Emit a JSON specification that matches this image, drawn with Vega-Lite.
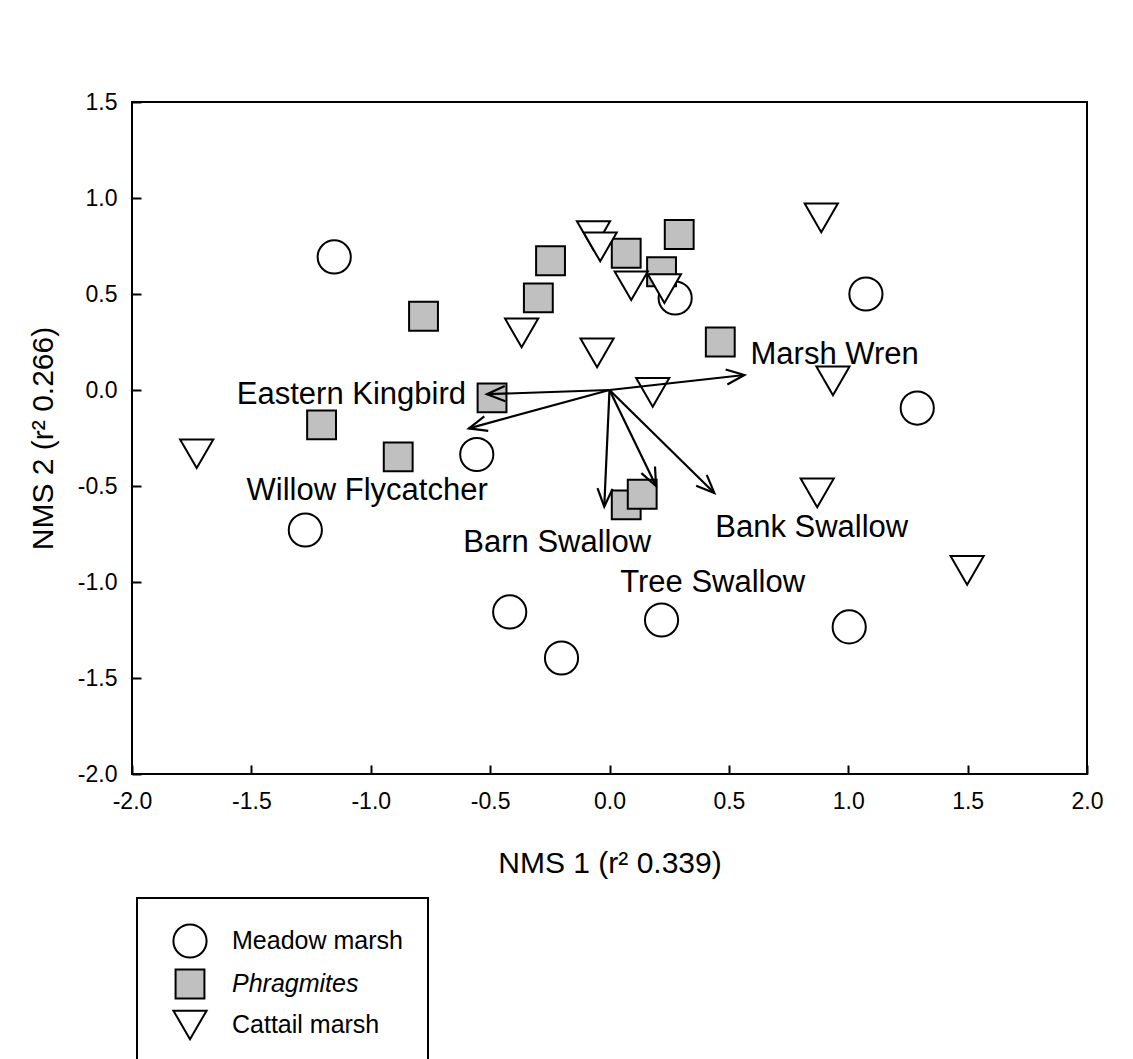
{
  "$schema": "https://vega.github.io/schema/vega-lite/v6.json",
  "width": 955,
  "height": 672,
  "autosize": "none",
  "padding": {"left": 132, "top": 102, "right": 46, "bottom": 285},
  "background": "white",
  "config": {
    "font": "Liberation Sans",
    "view": {"stroke": "black", "strokeWidth": 2},
    "axis": {
      "grid": false,
      "zindex": 1,
      "domain": false,
      "offset": -9,
      "tickColor": "black",
      "tickWidth": 2,
      "tickSize": 9,
      "labelFontSize": 23,
      "labelColor": "black",
      "labelFlush": false,
      "labelOverlap": false,
      "titleFontSize": 30,
      "titleFontWeight": "normal",
      "titleColor": "black"
    },
    "legend": {
      "symbolStrokeWidth": 2,
      "strokeWidth": 2
    }
  },
  "datasets": {
    "sites": [
      {"type": "Meadow marsh", "x": -1.153, "y": 0.693},
      {"type": "Meadow marsh", "x": 1.074, "y": 0.5},
      {"type": "Meadow marsh", "x": 1.289, "y": -0.094},
      {"type": "Meadow marsh", "x": 0.275, "y": 0.479},
      {"type": "Meadow marsh", "x": -0.556, "y": -0.336},
      {"type": "Meadow marsh", "x": -1.274, "y": -0.729},
      {"type": "Meadow marsh", "x": -0.418, "y": -1.156},
      {"type": "Meadow marsh", "x": -0.201, "y": -1.396},
      {"type": "Meadow marsh", "x": 0.218, "y": -1.198},
      {"type": "Meadow marsh", "x": 1.004, "y": -1.234},
      {"type": "Phragmites", "x": -0.779, "y": 0.384},
      {"type": "Phragmites", "x": -0.247, "y": 0.673},
      {"type": "Phragmites", "x": -0.298, "y": 0.48},
      {"type": "Phragmites", "x": 0.07, "y": 0.712},
      {"type": "Phragmites", "x": 0.218, "y": 0.616},
      {"type": "Phragmites", "x": 0.292, "y": 0.81},
      {"type": "Phragmites", "x": 0.464, "y": 0.25},
      {"type": "Phragmites", "x": -0.492, "y": -0.041},
      {"type": "Phragmites", "x": -1.206, "y": -0.182},
      {"type": "Phragmites", "x": -0.885, "y": -0.348},
      {"type": "Phragmites", "x": 0.07, "y": -0.598},
      {"type": "Phragmites", "x": 0.137, "y": -0.543},
      {"type": "Cattail marsh", "x": -0.067, "y": 0.804},
      {"type": "Cattail marsh", "x": -0.039, "y": 0.745},
      {"type": "Cattail marsh", "x": 0.091, "y": 0.543},
      {"type": "Cattail marsh", "x": 0.23, "y": 0.528},
      {"type": "Cattail marsh", "x": -0.368, "y": 0.297},
      {"type": "Cattail marsh", "x": -0.052, "y": 0.193},
      {"type": "Cattail marsh", "x": 0.181, "y": -0.012},
      {"type": "Cattail marsh", "x": 0.887, "y": 0.896},
      {"type": "Cattail marsh", "x": 0.936, "y": 0.048},
      {"type": "Cattail marsh", "x": -1.729, "y": -0.332},
      {"type": "Cattail marsh", "x": 0.87, "y": -0.536},
      {"type": "Cattail marsh", "x": 1.498, "y": -0.94}
    ],
    "vectors": [
      {"species": "Marsh Wren", "x": 0.565, "y": 0.078},
      {"species": "Eastern Kingbird", "x": -0.513, "y": -0.022},
      {"species": "Willow Flycatcher", "x": -0.589, "y": -0.2},
      {"species": "Barn Swallow", "x": -0.022, "y": -0.607},
      {"species": "Tree Swallow", "x": 0.195, "y": -0.5},
      {"species": "Bank Swallow", "x": 0.439, "y": -0.536}
    ],
    "labels": [
      {"species": "Marsh Wren", "x": 0.943, "y": 0.135},
      {"species": "Eastern Kingbird", "x": -1.081, "y": -0.074},
      {"species": "Willow Flycatcher", "x": -1.015, "y": -0.573},
      {"species": "Barn Swallow", "x": -0.219, "y": -0.842},
      {"species": "Tree Swallow", "x": 0.432, "y": -1.054},
      {"species": "Bank Swallow", "x": 0.847, "y": -0.767}
    ]
  },
  "encoding": {
    "x": {
      "field": "x",
      "type": "quantitative",
      "scale": {"domain": [-2, 2], "nice": false, "zero": false},
      "axis": {
        "title": "NMS 1 (r² 0.339)",
        "values": [-2, -1.5, -1, -0.5, 0, 0.5, 1, 1.5, 2],
        "labelExpr": "replace(format(datum.value, '.1f'), '−', '-')",
        "labelPadding": 16,
        "titlePadding": 35
      }
    },
    "y": {
      "field": "y",
      "type": "quantitative",
      "scale": {"domain": [-2, 1.5], "nice": false, "zero": false},
      "axis": {
        "title": "NMS 2 (r² 0.266)",
        "values": [-2, -1.5, -1, -0.5, 0, 0.5, 1, 1.5],
        "labelExpr": "replace(format(datum.value, '.1f'), '−', '-')",
        "labelPadding": 15,
        "titlePadding": 19
      }
    }
  },
  "layer": [
    {
      "data": {"name": "sites"},
      "mark": {"type": "point", "filled": true, "strokeWidth": 2, "opacity": 1, "size": 1100},
      "encoding": {
        "shape": {
          "field": "type",
          "type": "nominal",
          "scale": {
            "domain": ["Meadow marsh", "Phragmites", "Cattail marsh"],
            "range": ["circle", "M-0.87,-0.87L0.87,-0.87L0.87,0.87L-0.87,0.87Z", "triangle-down"]
          },
          "legend": {
            "title": null,
            "orient": "none",
            "legendX": 5,
            "legendY": 796,
            "padding": 25,
            "strokeColor": "black",
            "symbolOffset": 10,
            "symbolSize": 1100,
            "symbolStrokeWidth": 2,
            "symbolOpacity": 1,
            "labelFontSize": 25,
            "labelColor": "black",
            "labelOffset": 24,
            "labelLimit": 400,
            "rowPadding": 3,
            "labelFontStyle": {"expr": "datum.label === 'Phragmites' ? 'italic' : 'normal'"}
          }
        },
        "fill": {
          "field": "type",
          "type": "nominal",
          "scale": {
            "domain": ["Meadow marsh", "Phragmites", "Cattail marsh"],
            "range": ["white", "#c0c0c0", "white"]
          }
        },
        "stroke": {
          "field": "type",
          "type": "nominal",
          "scale": {
            "domain": ["Meadow marsh", "Phragmites", "Cattail marsh"],
            "range": ["black", "black", "black"]
          }
        }
      }
    },
    {
      "data": {"name": "vectors"},
      "mark": {"type": "rule", "stroke": "black", "strokeWidth": 2.2},
      "encoding": {
        "x2": {"datum": 0},
        "y2": {"datum": 0}
      }
    },
    {
      "data": {"name": "vectors"},
      "transform": [
        {"calculate": "atan2(-datum.y * 192, datum.x * 239) * 180 / PI", "as": "ang"}
      ],
      "mark": {
        "type": "point",
        "shape": "M-1,-0.42L0,0L-1,0.42",
        "filled": false,
        "fill": null,
        "stroke": "black",
        "strokeWidth": 2.2,
        "opacity": 1,
        "size": 1300
      },
      "encoding": {
        "angle": {"field": "ang", "type": "quantitative", "scale": null}
      }
    },
    {
      "data": {"name": "labels"},
      "mark": {
        "type": "text",
        "fontSize": 31,
        "align": "center",
        "baseline": "alphabetic",
        "color": "black"
      },
      "encoding": {
        "text": {"field": "species", "type": "nominal"}
      }
    }
  ]
}
